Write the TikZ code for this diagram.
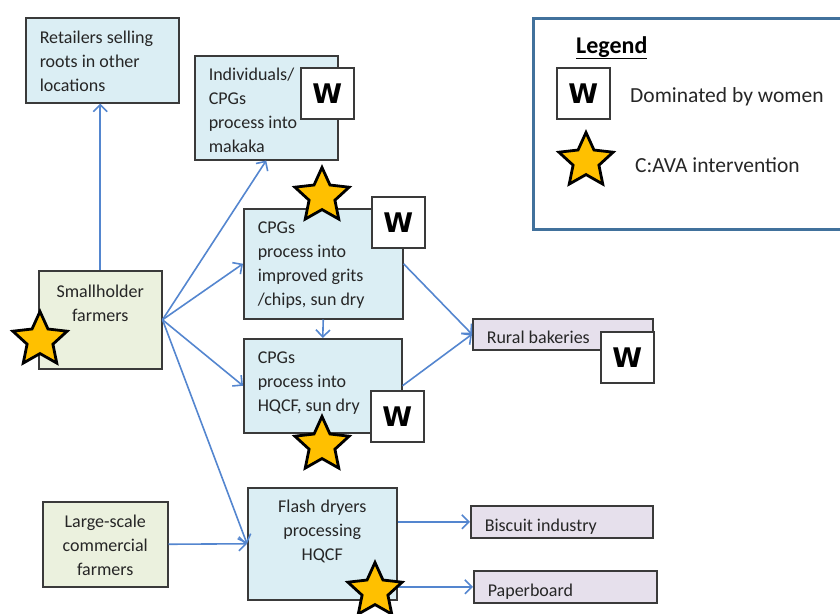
\documentclass[tikz,border=0pt]{standalone}
\usepackage{fontspec}
\setmainfont{Carlito}
\newfontfamily\wfont{DejaVu Sans}
\usetikzlibrary{shapes.geometric,arrows.meta}
\definecolor{bluefill}{HTML}{DBEEF4}
\definecolor{greenfill}{HTML}{EBF1DE}
\definecolor{lavfill}{HTML}{E6E0EC}
\definecolor{edgec}{HTML}{3A3A3A}
\definecolor{arrowc}{HTML}{5486CF}
\definecolor{legc}{HTML}{41719C}
\definecolor{starc}{HTML}{FFC000}
\definecolor{txt}{HTML}{262626}
\begin{document}
\begin{tikzpicture}[x=1pt,y=-1pt,
 box/.style={draw=edgec, line width=1.5pt, rectangle, inner xsep=14pt, inner ysep=0pt, font=\fontsize{18}{24}\selectfont, text=txt, anchor=north west, execute at begin node={\spaceskip=0pt\xspaceskip=0pt}},
 bluebox/.style={box, fill=bluefill, align=left},
 greenbox/.style={box, fill=greenfill, align=center},
 lavbox/.style={box, fill=lavfill, align=left, text height=19pt, text depth=0pt},
 wbox/.style={draw=edgec, line width=1.7pt, fill=white, minimum width=53pt, minimum height=51pt, inner sep=0pt, anchor=north west, font=\wfont\bfseries\fontsize{27}{30}\selectfont},
 starshape/.style={star, star points=5, star point ratio=2.1, minimum size=57pt, inner sep=0pt, fill=starc, draw=black, line width=2.8pt},
 flow/.style={draw=arrowc, line width=1.6pt, -{Straight Barb[length=7pt,width=14pt]}},
 legtext/.style={anchor=base west, inner sep=0pt, text=txt, font=\fontsize{21.5}{26}\selectfont},
]
\useasboundingbox (0,0) rectangle (840,613);
\clip (0,0) rectangle (840,613);

% boxes
\node[bluebox, minimum width=153pt, minimum height=85pt, text width=125pt, text height=20pt, text depth=53pt] (ret) at (25,17) {Retailers selling\\roots in other\\locations};
\node[bluebox, minimum width=143pt, minimum height=104pt, text width=115pt, text height=20pt, text depth=74pt] (ind) at (194,55) {Individuals/\\CPGs\\process into\\makaka};
\node[bluebox, minimum width=159pt, minimum height=110pt, text width=131pt, text height=20pt, text depth=80pt] (cg) at (243,208) {CPGs\\process into\\improved grits\\/chips, sun dry};
\node[bluebox, minimum width=158pt, minimum height=94pt, text width=130pt, text height=20pt, text depth=64pt] (hq) at (243,338) {CPGs\\process into\\HQCF, sun dry};
\node[bluebox, align=center, minimum width=149pt, minimum height=112pt, text width=121pt, text height=20pt, text depth=82pt] (fd) at (247,487) {Flash dryers\\processing\\HQCF};
\node[greenbox, minimum width=123pt, minimum height=98pt, text width=95pt, text height=20pt, text depth=64pt] (sh) at (38,270) {Smallholder\\farmers};
\node[greenbox, minimum width=125pt, minimum height=85pt, text width=97pt, text height=20pt, text depth=53pt] (ls) at (42,501) {Large-scale\\commercial\\farmers};
\node[lavbox, minimum width=180pt, minimum height=31pt, text width=152pt] (rb) at (472,318) {Rural bakeries};
\node[lavbox, minimum width=182pt, minimum height=32pt, text width=154pt] (bi) at (470,505) {Biscuit industry};
\node[lavbox, minimum width=183pt, minimum height=32pt, text width=155pt] (pb) at (473,570) {Paperboard};

% connectors
\draw[flow] (sh.north) -- (sh.north |- ret.south);
\draw[flow] (sh.east) -- (ind.south);
\draw[flow] (sh.east) -- (cg.west);
\draw[flow] (sh.east) -- (hq.west);
\draw[flow] (sh.east) -- (fd.west);
\draw[flow] (ls.east) -- (fd.west);
\draw[flow] (cg.south) -- (hq.north);
\draw[flow] (cg.east) -- (rb.west);
\draw[flow] (hq.east) -- (rb.west);
\draw[flow] (bi.west -| fd.east) -- (bi.west);
\draw[flow] (pb.west -| fd.east) -- (pb.west);

% W markers
\node[wbox] (w1) at (300,67) {W};
\node[wbox] (w2) at (371,196) {W};
\node[wbox] (w3) at (370,390) {W};
\node[wbox] (w4) at (600,331) {W};

% stars
\node[starshape] (s1) at (322,196) {};
\node[starshape] (s2) at (40,340) {};
\node[starshape] (s3) at (322,445) {};
\node[starshape] (s4) at (375,591) {};

% legend
\node[draw=legc, line width=3pt, minimum width=312pt, minimum height=211pt, anchor=north west, inner sep=0pt] (leg) at (532,17) {};
\node[anchor=base west, inner sep=0pt, text=black, font=\bfseries\fontsize{24}{28}\selectfont] (legtitle) at (576,53) {\underline{Legend}};
\node[wbox] (wl) at (556,67) {W};
\node[legtext] (legw) at (630,102) {Dominated by women};
\node[starshape] (sl) at (586,161) {};
\node[legtext] (legs) at (635,172) {C:AVA intervention};
\end{tikzpicture}
\end{document}
